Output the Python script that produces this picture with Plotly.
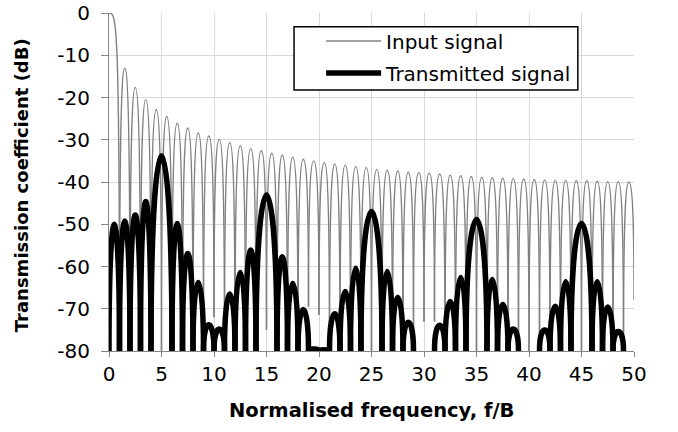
import plotly.graph_objects as go

# ---------------- data ----------------
# Input signal: main lobe peak (at f=0) and side-lobe peaks at f = 1.5, 2.5, ..., 49.5 (dB)
input_main_peak_db = 0.0
input_sidelobe_f = [n + 0.5 for n in range(1, 50)]
input_sidelobe_db = [
    -13.1, -17.6, -20.5, -22.9, -24.5, -26.1, -27.2, -28.4,
    -29.1, -29.9, -30.7, -31.4, -32.1, -32.6, -33.2, -33.6, -34.1, -34.6, -35.0, -35.4,
    -35.7, -36.0, -36.3, -36.6, -37.0, -37.2, -37.4, -37.7, -37.8,
    -37.9, -38.1, -38.4, -38.5, -38.7, -38.9, -39.0, -39.1, -39.2, -39.3, -39.4,
    -39.5, -39.6, -39.6, -39.7, -39.7, -39.8, -39.9, -39.9, -40.0,
]
# Depth of the input nulls at f = 1..50 (dB, -80 = reaches the bottom of the axis)
input_null_f = list(range(1, 51))
input_null_db = [
    -80, -80, -80, -80, -80, -80, -80, -80, -80, -72,
    -80, -80, -80, -80, -75, -80, -80, -80, -69.5, -71.5,
    -80, -80, -80, -80, -80, -80, -80, -80, -76, -73,
    -73, -80, -80, -80, -80, -80, -80, -80, -80, -80,
    -80, -80, -80, -80, -80, -80, -80, -80, -80, -68,
]

# Transmitted signal: lobe centres, half-widths and peaks (dB)
trans_lobe_f = [0.5, 1.5, 2.5, 3.5, 5, 6.5, 7.5, 8.5, 9.5,
                10.5, 11.5, 12.5, 13.5, 15, 16.5, 17.5, 18.5, 19.5,
                20.5, 21.5, 22.5, 23.5, 25, 26.5, 27.5, 28.5,
                31.5, 32.5, 33.5, 35, 36.5, 37.5, 38.5,
                41.5, 42.5, 43.5, 45, 46.5, 47.5, 48.5]
trans_lobe_halfwidth = [0.5, 0.5, 0.5, 0.5, 1, 0.5, 0.5, 0.5, 0.5,
                        0.5, 0.5, 0.5, 0.5, 1, 0.5, 0.5, 0.5, 0.5,
                        0.5, 0.5, 0.5, 0.5, 1, 0.5, 0.5, 0.5,
                        0.5, 0.5, 0.5, 1, 0.5, 0.5, 0.5,
                        0.5, 0.5, 0.5, 1, 0.5, 0.5, 0.5]
trans_lobe_db = [-50.0, -49.2, -47.8, -44.6, -33.8, -49.8, -56.9, -63.8, -73.8,
                 -74.8, -66.5, -61.4, -56.1, -43.1, -57.7, -64.0, -70.2, -79.5,
                 -79.7, -71.2, -65.9, -60.4, -47.0, -61.2, -67.3, -73.2,
                 -73.9, -68.3, -62.6, -48.9, -63.1, -69.0, -74.8,
                 -75.0, -69.4, -63.6, -49.8, -63.6, -69.6, -75.4]

legend_names = ["Input signal", "Transmitted signal"]
x_ticks = list(range(0, 55, 5))
x_tick_labels = [str(v) for v in x_ticks]
y_ticks = list(range(-80, 10, 10))
y_tick_labels = [str(v) for v in y_ticks]  # ASCII hyphen, as in the reference
Y_MIN, Y_MAX = -80, 0

GRAY = "#808080"
FONT = "DejaVu Sans"


def lobe_path(x0, x1, y0, y1, peak, rise, inner):
    """Arch from (x0,y0) up to the peak and down to (x1,y1).
    rise: how far up the first control point goes (fraction of height);
    inner: how far toward the centre the second control point sits (fraction of half width)."""
    xm = (x0 + x1) / 2
    hw = (x1 - x0) / 2
    c0 = y0 + rise * (peak - y0)
    c1 = y1 + rise * (peak - y1)
    return (f"M{x0},{y0} C{x0},{c0} {x0 + inner * hw},{peak} {xm},{peak} "
            f"C{x1 - inner * hw},{peak} {x1},{c1} {x1},{y1}")


shapes = []
# input main lobe (half lobe from f=0 down to the first null)
shapes.append(dict(type="path", xref="x", yref="y",
                   path=f"M0,{input_main_peak_db} C0.7,{input_main_peak_db} 1,{input_main_peak_db} 1,{input_null_db[0]}",
                   line=dict(color=GRAY, width=1.4)))
for i, (fc, pk) in enumerate(zip(input_sidelobe_f, input_sidelobe_db)):
    shapes.append(dict(type="path", xref="x", yref="y",
                       path=lobe_path(fc - 0.5, fc + 0.5, input_null_db[i], input_null_db[i + 1], pk, 0.9, 0.55),
                       line=dict(color=GRAY, width=1.4)))
for fc, hw, pk in zip(trans_lobe_f, trans_lobe_halfwidth, trans_lobe_db):
    shapes.append(dict(type="path", xref="x", yref="y",
                       path=lobe_path(fc - hw, fc + hw, Y_MIN, Y_MIN, pk, 0.75, 0.6),
                       line=dict(color="black", width=5.5)))
# legend frame (white box with black border)
shapes.append(dict(type="rect", xref="paper", yref="paper",
                   x0=0.3525, x1=0.893, y0=0.772, y1=0.959,
                   fillcolor="white", line=dict(color="black", width=1.5), layer="above"))

fig = go.Figure()
fig.add_trace(go.Scatter(x=[None], y=[None], mode="lines", name=legend_names[0],
                         line=dict(color=GRAY, width=1.4), legendgroup="a"))
fig.add_trace(go.Scatter(x=[None], y=[None], mode="lines", name=legend_names[1],
                         line=dict(color="black", width=5.5), legendgroup="b"))

fig.update_layout(
    width=678, height=432,
    margin=dict(l=109, r=44, t=13, b=81, autoexpand=False),
    paper_bgcolor="white", plot_bgcolor="white",
    font=dict(family=FONT, size=20, color="black"),
    shapes=shapes,
    showlegend=True,
    legend=dict(x=0.404, y=0.975, xanchor="left", yanchor="top",
                bgcolor="rgba(0,0,0,0)", borderwidth=0,
                font=dict(family=FONT, size=20, color="black"),
                tracegroupgap=3, itemwidth=55),
    xaxis=dict(range=[0, 50], tickmode="array", tickvals=x_ticks, ticktext=x_tick_labels,
               automargin=False,
               showgrid=True, gridcolor="#d9d9d9", gridwidth=1,
               showline=True, linecolor="#868686", linewidth=1,
               ticks="outside", ticklen=5, tickcolor="#868686",
               zeroline=False, tickfont=dict(family=FONT, size=20)),
    yaxis=dict(range=[Y_MIN, Y_MAX + 0.01], tickmode="array", tickvals=y_ticks, ticktext=y_tick_labels,
               automargin=False,
               showgrid=True, gridcolor="#d9d9d9", gridwidth=1,
               showline=True, linecolor="#868686", linewidth=1,
               ticks="outside", ticklen=7, tickcolor="#868686",
               ticklabelstandoff=7,
               zeroline=False, tickfont=dict(family=FONT, size=20)),
    annotations=[
        dict(text="<b>Normalised frequency, f/B</b>", xref="paper", yref="paper",
             x=0.5, y=-0.175, xanchor="center", yanchor="middle", showarrow=False,
             font=dict(family=FONT, size=19.5, color="black")),
        dict(text="<b>Transmission coefficient (dB)</b>", xref="paper", yref="paper",
             x=-0.166, y=0.49, xanchor="center", yanchor="middle", showarrow=False,
             textangle=-90, font=dict(family=FONT, size=18, color="black")),
    ],
)

fig.write_html("out.html")
